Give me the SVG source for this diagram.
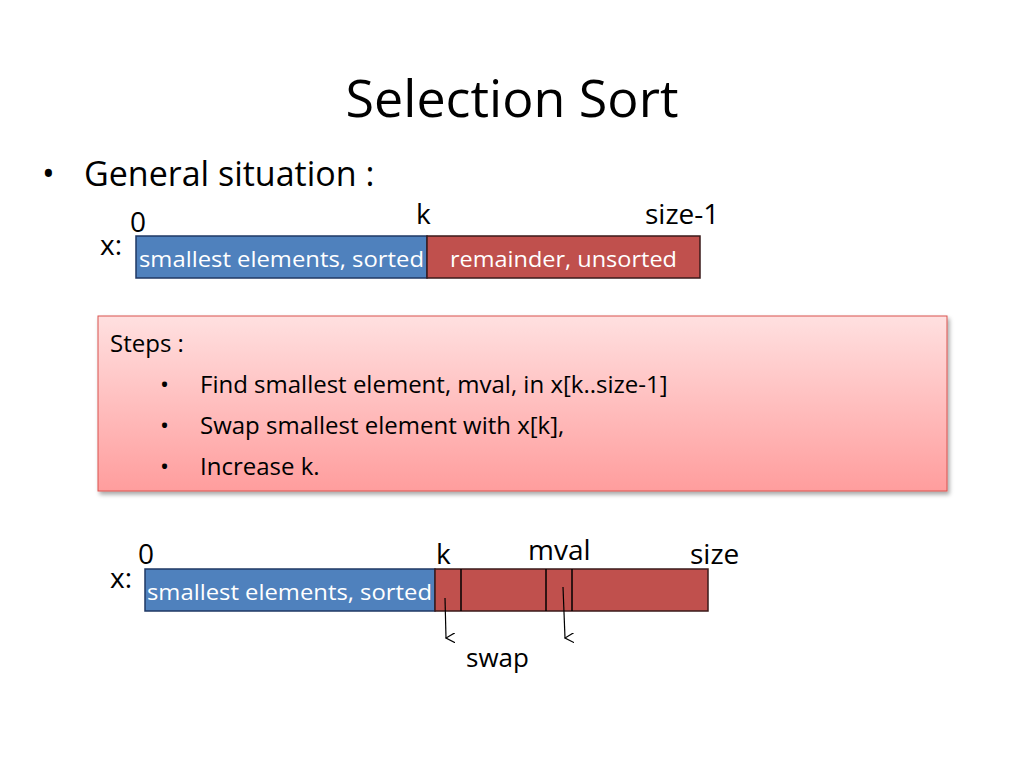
<svg xmlns="http://www.w3.org/2000/svg" width="1024" height="768" viewBox="0 0 1024 768">
<defs>
<linearGradient id="g" x1="0" y1="0" x2="0" y2="1"><stop offset="0" stop-color="#ffe0e0"/><stop offset="1" stop-color="#ff9d9d"/></linearGradient>
<marker id="ar" markerWidth="10" markerHeight="10" refX="5" refY="9" orient="auto" markerUnits="userSpaceOnUse"><path d="M0,0 L5,9 L10,0" fill="none" stroke="#000" stroke-width="1.2"/></marker>
<filter id="sh"><feDropShadow dx="2" dy="3" stdDeviation="2" flood-opacity="0.35"/></filter>
</defs>
<style>
text{font-family:"Open Sans","Liberation Sans",sans-serif;fill:#000}
.w{fill:#fff;font-size:22px}
.blue{fill:#4f81bd;stroke:#1f3864;stroke-width:1.5}
.red{fill:#c0504d;stroke:#3a1a1a;stroke-width:1.5}
.lab{font-size:28px}
</style>
<rect width="1024" height="768" fill="#fff"/>
<text x="512" y="117" font-size="52" text-anchor="middle">Selection Sort</text>
<text x="42" y="186" font-size="34">•</text>
<text x="84" y="186" font-size="34">General situation :</text>
<g id="bar1">
<text x="100" y="255" class="lab">x:</text>
<text x="130" y="232" class="lab">0</text>
<text x="416" y="224" class="lab">k</text>
<text x="645" y="224" class="lab">size-1</text>
<rect x="136" y="236" width="291" height="42" class="blue"/>
<rect x="427" y="236" width="273" height="42" class="red"/>
<text x="139" y="267" class="w" textLength="285" lengthAdjust="spacingAndGlyphs">smallest elements, sorted</text>
<text x="450" y="267" class="w" textLength="227" lengthAdjust="spacingAndGlyphs">remainder, unsorted</text>
</g>
<g id="steps">
<rect x="98" y="316" width="849" height="175" fill="url(#g)" stroke="#d9534f" stroke-width="1" filter="url(#sh)"/>
<text x="110" y="352" font-size="24">Steps :</text>
<text x="160" y="393" font-size="24">•</text>
<text x="200" y="393" font-size="24">Find smallest element, mval, in x[k..size-1]</text>
<text x="160" y="434" font-size="24">•</text>
<text x="200" y="434" font-size="24">Swap smallest element with x[k],</text>
<text x="160" y="475" font-size="24">•</text>
<text x="200" y="475" font-size="24">Increase k.</text>
</g>
<g id="bar2">
<text x="110" y="588" class="lab">x:</text>
<text x="138" y="564" class="lab">0</text>
<text x="436" y="564" class="lab">k</text>
<text x="528" y="560" class="lab">mval</text>
<text x="690" y="564" class="lab">size</text>
<rect x="145" y="569" width="290" height="42" class="blue"/>
<rect x="435" y="569" width="273" height="42" class="red"/>
<line x1="461" y1="569" x2="461" y2="611" stroke="#000" stroke-width="1.5"/>
<line x1="546" y1="569" x2="546" y2="611" stroke="#000" stroke-width="1.5"/>
<line x1="572" y1="569" x2="572" y2="611" stroke="#000" stroke-width="1.5"/>
<text x="147" y="600" class="w" textLength="285" lengthAdjust="spacingAndGlyphs">smallest elements, sorted</text>
<text x="466" y="667" font-size="26">swap</text>
</g>
<g id="connectors">
<line x1="445" y1="598" x2="446" y2="638" stroke="#000" stroke-width="1.2" marker-end="url(#ar)"/>
<line x1="563" y1="587" x2="565" y2="638" stroke="#000" stroke-width="1.2" marker-end="url(#ar)"/>
</g>
</svg>
